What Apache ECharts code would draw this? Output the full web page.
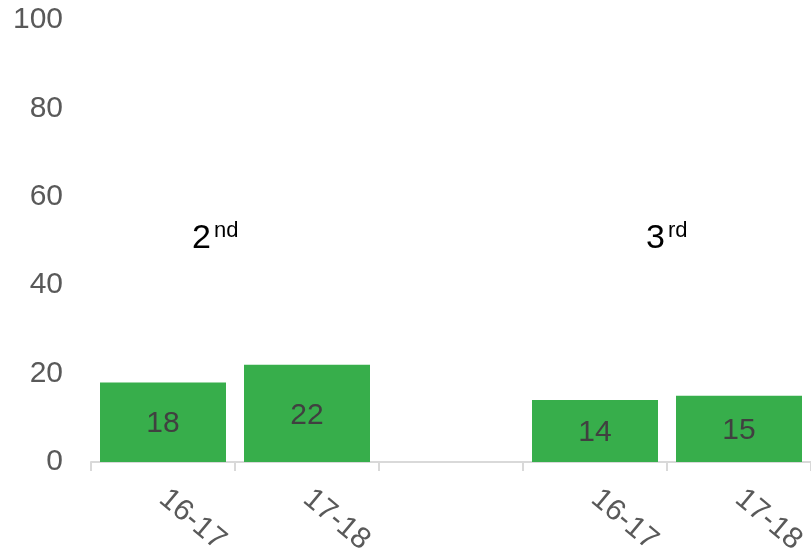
<!DOCTYPE html>
<html lang="en">
  <head>
    <meta charset="UTF-8" />
    <title>Chart</title>
    <script src="https://cdn.jsdelivr.net/npm/echarts@6/dist/echarts.min.js"></script>
    <style>
      html, body { margin: 0; padding: 0; background: #fff; }
      #main { width: 811px; height: 553px; }
    </style>
  </head>
  <body>
    <div id="main"></div>
    <script>
      // categories (middle slot is an empty spacer between the two groups)
      var categories = ['16-17', '17-18', '', '16-17', '17-18'];
      var values = [18, 22, null, 14, 15];
      var yTicks = [0, 20, 40, 60, 80, 100];
      // group headings: base text + superscript
      var groupBase = ['2', '3'];
      var groupSup = ['nd', 'rd'];

      var font = '"Liberation Sans", Arial, sans-serif';
      var myChart = echarts.init(document.getElementById('main'));

      var option = {
        backgroundColor: '#ffffff',
        animation: false,
        grid: { left: 91, right: 0, top: 20, bottom: 91, containLabel: false, outerBoundsMode: 'none' },
        xAxis: {
          type: 'category',
          data: categories,
          axisLine: { show: true, lineStyle: { color: '#d9d9d9', width: 2 } },
          axisTick: { show: true, length: 9, lineStyle: { color: '#d9d9d9', width: 2 } },
          axisLabel: {
            rotate: -40,
            margin: 33,
            fontSize: 30,
            fontFamily: font,
            color: '#595959',
            interval: 0
          }
        },
        yAxis: {
          type: 'value',
          min: yTicks[0],
          max: yTicks[yTicks.length - 1],
          interval: 20,
          axisLine: { show: false },
          axisTick: { show: false },
          splitLine: { show: false },
          axisLabel: {
            margin: 28,
            fontSize: 30,
            fontFamily: font,
            color: '#595959'
          }
        },
        series: [{
          type: 'bar',
          data: values,
          barWidth: 126,
          itemStyle: { color: '#37ae4b' },
          label: {
            show: true,
            position: 'inside',
            offset: [0, 2],
            fontSize: 30,
            fontFamily: font,
            color: '#404040'
          }
        }],
        graphic: [
          { type: 'text', x: 192, y: 239, style: { text: groupBase[0], font: '34px ' + font, fill: '#000', verticalAlign: 'middle' } },
          { type: 'text', x: 214, y: 231, style: { text: groupSup[0], font: '22px ' + font, fill: '#000', verticalAlign: 'middle' } },
          { type: 'text', x: 646, y: 239, style: { text: groupBase[1], font: '34px ' + font, fill: '#000', verticalAlign: 'middle' } },
          { type: 'text', x: 668, y: 231, style: { text: groupSup[1], font: '22px ' + font, fill: '#000', verticalAlign: 'middle' } }
        ]
      };
      myChart.setOption(option);
    </script>
  </body>
</html>
